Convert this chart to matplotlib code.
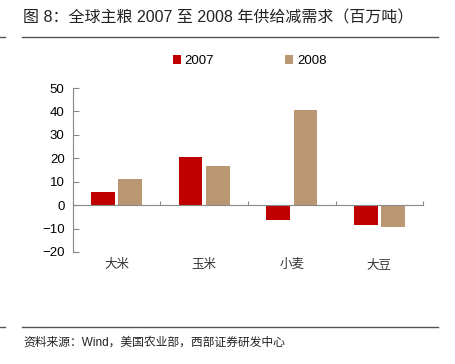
import matplotlib.pyplot as plt
import numpy as np

plt.rcParams['font.family'] = ['Liberation Sans', 'Noto Sans CJK SC', 'DejaVu Sans']
plt.rcParams['axes.unicode_minus'] = True

# data
categories = ['大米', '玉米', '小麦', '大豆']
y2007 = [5.7, 20.5, -6.5, -8.6]
y2008 = [11.0, 16.8, 40.7, -9.4]
yticks = [-20, -10, 0, 10, 20, 30, 40, 50]

fig = plt.figure(figsize=(4.55, 3.64), dpi=100)
ax = fig.add_axes([0.1604, 0.3077, 0.7693, 0.4505])

x = np.arange(len(categories))
w = 0.27
ax.bar(x - 0.155, y2007, width=w, color='#C00000', label='2007')
ax.bar(x + 0.155, y2008, width=w, color='#B89772', label='2008')

ax.set_xlim(-0.5, len(categories) - 0.5)
ax.set_ylim(-20, 50)
ax.set_yticks(yticks)
ax.tick_params(axis='y', direction='in', length=4, color='#888888', labelsize=9.5, pad=6)
ax.spines['left'].set_color('#888888')
ax.spines['bottom'].set_position(('data', 0))
ax.spines['bottom'].set_color('#888888')
ax.spines['top'].set_visible(False)
ax.spines['right'].set_visible(False)

ax.set_xticks(np.arange(len(categories) + 1) - 0.5)
ax.set_xticklabels([])
ax.tick_params(axis='x', direction='in', length=3, color='#888888')
for i, c in enumerate(categories):
    ax.text(i, -25.5, c, ha='center', va='center', fontsize=9, color='#333333',
            family=['Noto Sans CJK SC', 'DejaVu Sans'])

ax.legend(loc='center', bbox_to_anchor=(0.505, 1.163), ncol=2, frameon=False,
          fontsize=9.5, handlelength=0.6, handleheight=0.6, columnspacing=5.4,
          handletextpad=0.3)

# title and source
fig.text(0.05, 0.95, '图 8：全球主粮 2007 至 2008 年供给减需求（百万吨）',
         fontsize=11.5, ha='left', va='center', color='#222222',
         family=['Liberation Sans', 'Noto Sans CJK SC'])
fig.add_artist(plt.Line2D([0.048, 0.963], [0.898, 0.898], color='#555555', lw=1))
fig.add_artist(plt.Line2D([0.0, 0.01], [0.898, 0.898], color='#555555', lw=1))
fig.add_artist(plt.Line2D([0.048, 0.963], [0.102, 0.102], color='#555555', lw=1))
fig.add_artist(plt.Line2D([0.0, 0.01], [0.102, 0.102], color='#555555', lw=1))
fig.text(0.052, 0.058, '资料来源：Wind，美国农业部，西部证券研发中心',
         fontsize=8.5, ha='left', va='center', color='#222222',
         family=['Liberation Sans', 'Noto Sans CJK SC'])

fig.savefig('out.png', dpi=100)
